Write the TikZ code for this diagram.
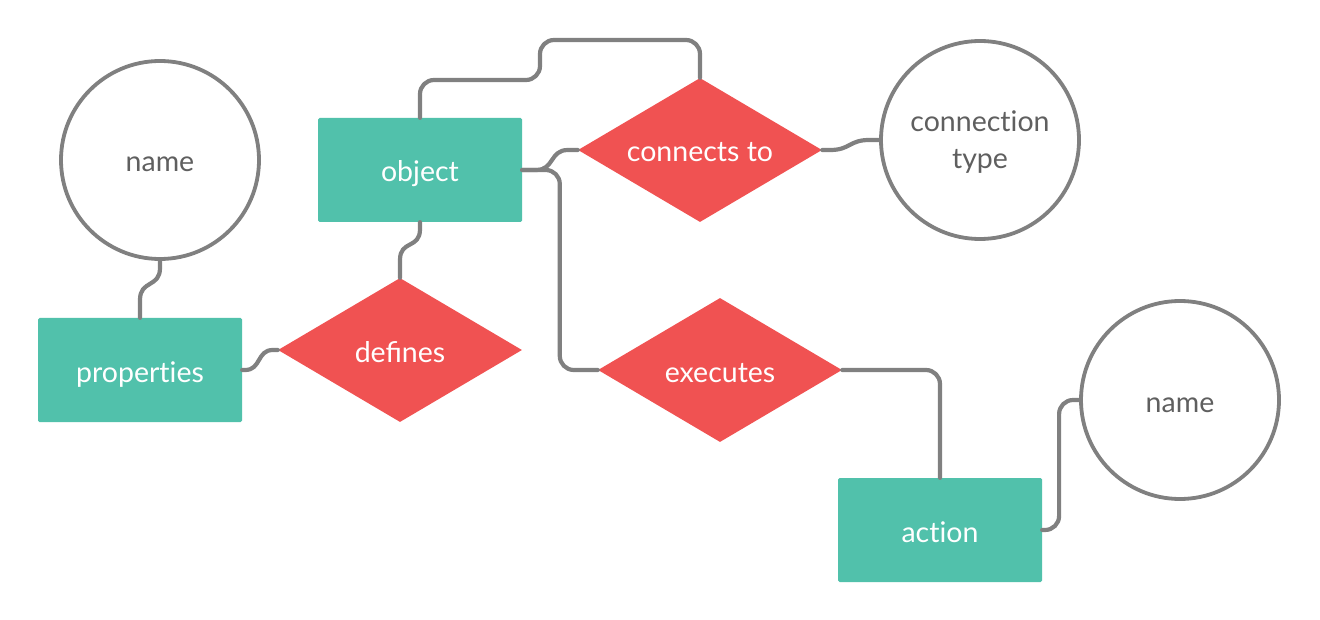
\documentclass[tikz,border=0pt]{standalone}
\usepackage{fontspec}
\setmainfont{Lato}
\usetikzlibrary{shapes.geometric,calc}
\definecolor{teal}{HTML}{51C1AB}
\definecolor{coral}{HTML}{F05252}
\definecolor{wire}{HTML}{808080}
\definecolor{label}{HTML}{5F5F5F}
\begin{document}
\begin{tikzpicture}[x=1pt, y=-1pt,
  every node/.style={font=\fontsize{28.5}{37}\selectfont, text height=27pt, text depth=3pt},
  entity/.style={rectangle, fill=teal, text=white, rounded corners=1.5pt,
    minimum width=204pt, minimum height=104pt, inner sep=0pt},
  relation/.style={diamond, fill=coral, text=white, aspect=1.667,
    minimum width=244pt, minimum height=144pt, inner sep=0pt},
  attribute/.style={circle, draw=wire, line width=3.8pt, text=label,
    minimum size=198pt, inner sep=0pt, align=center},
  link/.style={draw=wire, line width=4.2pt, line cap=round, line join=round}]
\useasboundingbox (0,0) rectangle (1320,620);
% Nodes
\node[attribute] (nameA) at (160,160) {name};
\node[entity] (props) at (140,370) {proper\mbox{t}ies};
\node[entity] (object) at (420,170) {object};
\node[relation] (defines) at (400,350) {defines};
\node[relation] (connects) at (700,150) {connects to};
\node[attribute, text height=, text depth=0pt] (conntype) at (980,140) {connec\mbox{t}ion\\type};
\node[relation] (executes) at (720,370) {executes};
\node[entity] (action) at (940,530) {ac\mbox{t}ion};
\node[attribute] (nameB) at (1180,400) {name};
% Links
\draw[link] (nameA.south) -- ++(0,7) .. controls +(0,20) and +(0,-20) .. ($(props.north)+(0,-18)$) -- (props.north);
\draw[link] (props.east) -- ++(3,0) .. controls +(16,0) and +(-16,0) .. ($(defines.west)+(-5,0)$) -- (defines.west);
\draw[link] (object.south) -- ++(0,7) .. controls +(0,20) and +(0,-20) .. ($(defines.north)+(0,-18)$) -- (defines.north);
\draw[link, rounded corners=14pt] (object.north) |- (540,80) -- (540,40) -| (connects.north);
\draw[link] (object.east) -- ++(14,0) .. controls +(18,0) and +(-18,0) .. ($(connects.west)+(-10,0)$) -- (connects.west);
\draw[link, rounded corners=14pt] (object.east) -| ($(executes.west)+(-38,0)$) -- (executes.west);
\draw[link, rounded corners=14pt] (executes.east) -| (action.north);
\draw[link, rounded corners=14pt] (action.east) -| ($(nameB.west)+(-20,0)$) -- (nameB.west);
\draw[link] (connects.east) -- ++(8,0) .. controls +(20,0) and +(-20,0) .. ($(conntype.west)+(-10,0)$) -- (conntype.west);
\end{tikzpicture}
\end{document}
